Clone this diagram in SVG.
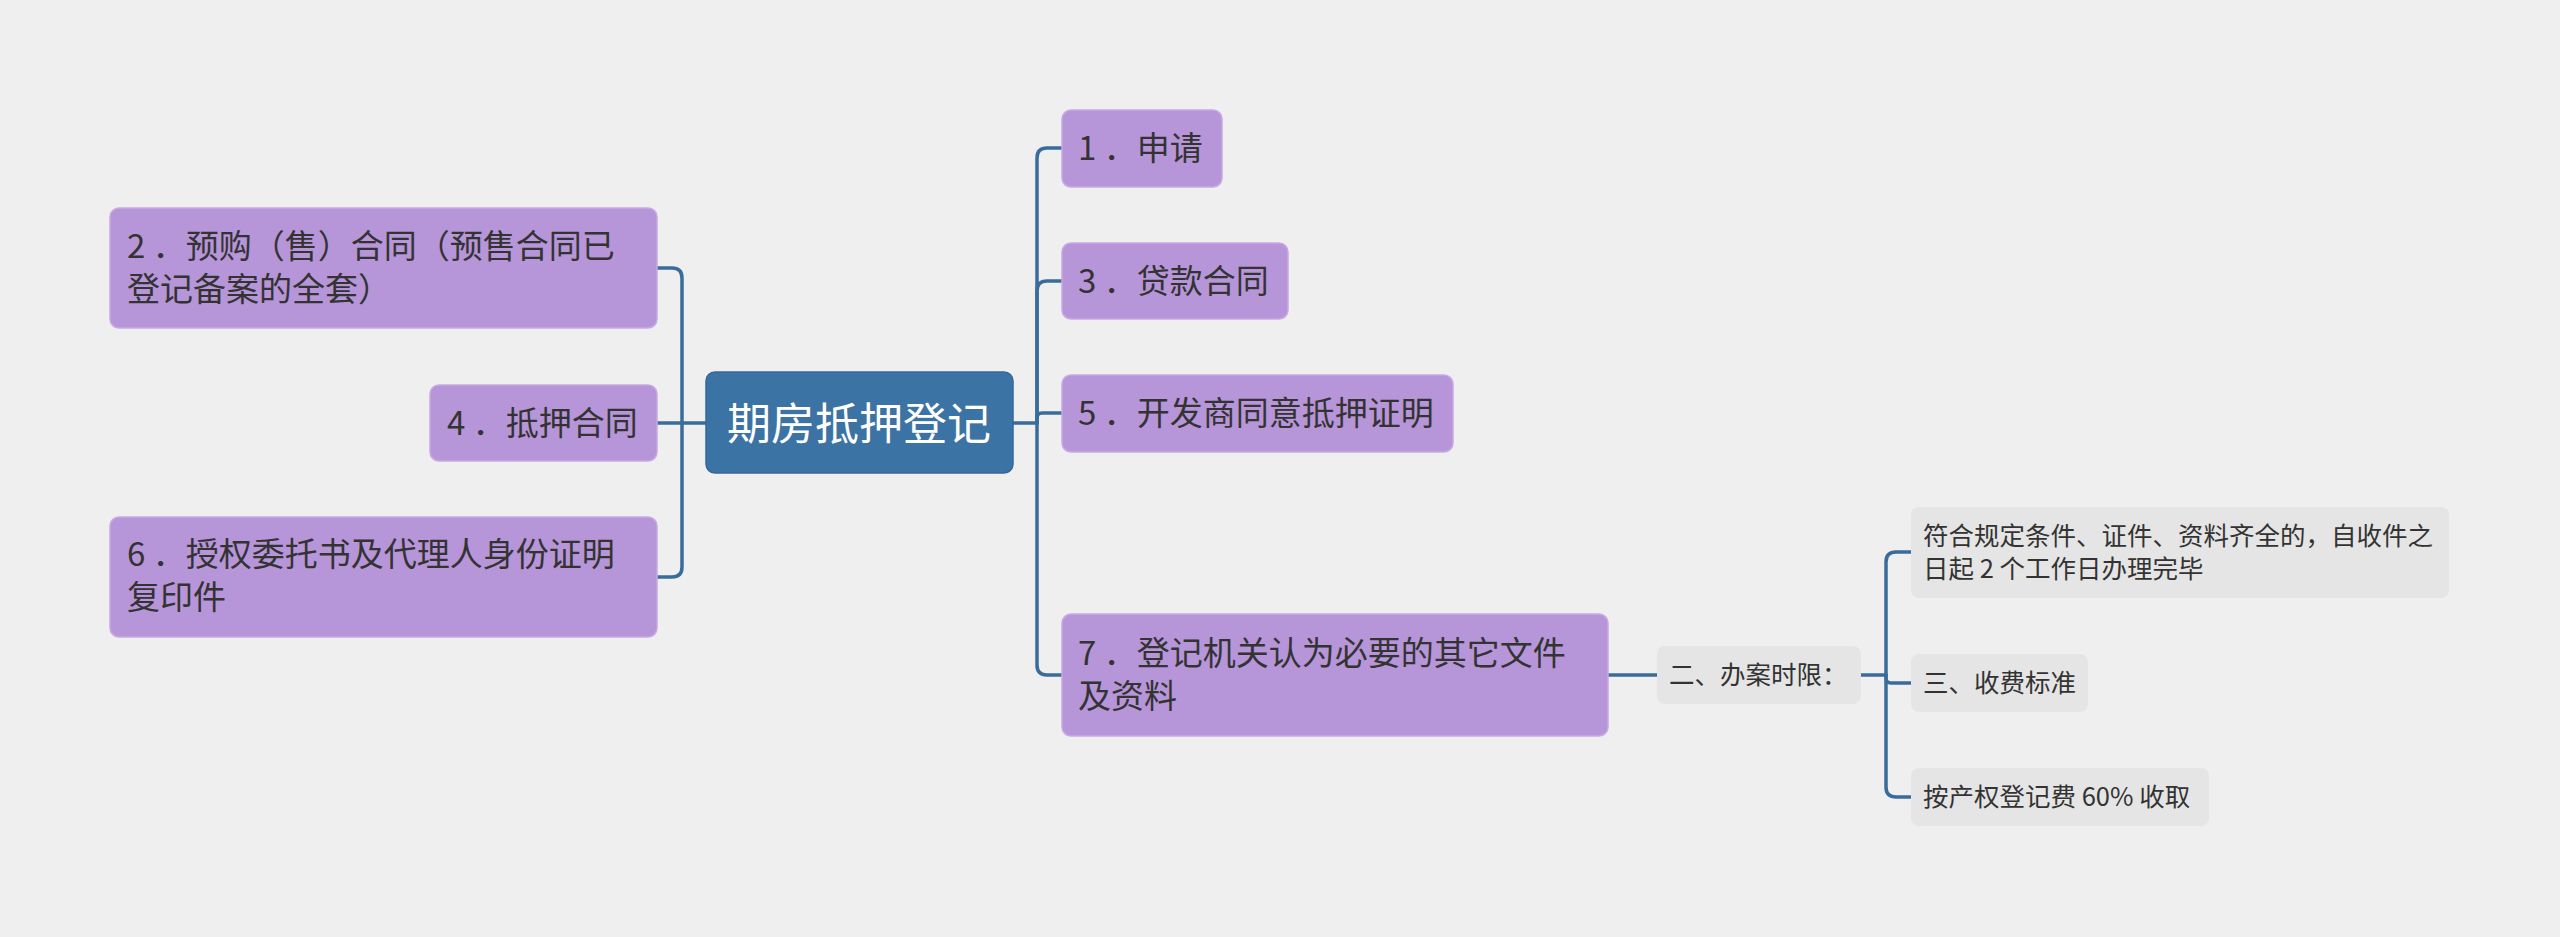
<svg xmlns="http://www.w3.org/2000/svg" width="2560" height="937" viewBox="0 0 2560 937">
<style>
.bg{fill:#efefef}
.p{fill:#b795d9;stroke:#c7a9e4;stroke-width:1.5}
.c{fill:#3c73a5;stroke:#35689a;stroke-width:1.5}
.g{fill:#e5e5e5}
.t{font-family:"Noto Sans CJK SC","Noto Sans",sans-serif;fill:#333333}
.pt{font-size:33px}
.gt{font-size:25.5px}
.ct{font-family:"Noto Sans CJK SC","Noto Sans",sans-serif;fill:#ffffff;font-size:44px}
.ln{fill:none;stroke:#3a6c9b;stroke-width:3.5;stroke-linecap:round}
</style>
<rect class="bg" x="0" y="0" width="2560" height="937"/>
<g id="connectors">
<path class="ln" d="M1013,423 H1037"/>
<path class="ln" d="M1037,423 V158 Q1037,148 1047,148 H1062"/>
<path class="ln" d="M1037,423 V291 Q1037,281 1047,281 H1062"/>
<path class="ln" d="M1037,423 V418 Q1037,413 1042,413 H1062"/>
<path class="ln" d="M1037,423 V665 Q1037,675 1047,675 H1062"/>
<path class="ln" d="M706,423 H682"/>
<path class="ln" d="M682,423 V278 Q682,268 672,268 H657"/>
<path class="ln" d="M682,423 H657"/>
<path class="ln" d="M682,423 V567 Q682,577 672,577 H657"/>
<path class="ln" d="M1608,675 H1657"/>
<path class="ln" d="M1861,675 H1886"/>
<path class="ln" d="M1886,675 V562 Q1886,552 1896,552 H1911"/>
<path class="ln" d="M1886,675 V678 Q1886,683 1891,683 H1911"/>
<path class="ln" d="M1886,675 V787 Q1886,797 1896,797 H1911"/>
</g>
<g id="center">
<rect class="c" x="706" y="372" width="307" height="101" rx="9"/>
<text class="ct" x="727" y="440">期房抵押登记</text>
</g>
<g id="n1">
<rect class="p" x="1062" y="110" width="160" height="77" rx="9"/>
<text class="t pt" x="1078" y="160">1 ．申请</text>
</g>
<g id="n3">
<rect class="p" x="1062" y="243" width="226" height="76" rx="9"/>
<text class="t pt" x="1078" y="293">3 ．贷款合同</text>
</g>
<g id="n5">
<rect class="p" x="1062" y="375" width="391" height="77" rx="9"/>
<text class="t pt" x="1078" y="425">5 ．开发商同意抵押证明</text>
</g>
<g id="n7">
<rect class="p" x="1062" y="614" width="546" height="122" rx="9"/>
<text class="t pt" x="1078" y="665">7 ．登记机关认为必要的其它文件</text>
<text class="t pt" x="1078" y="708">及资料</text>
</g>
<g id="n2">
<rect class="p" x="110" y="208" width="547" height="120" rx="9"/>
<text class="t pt" x="127" y="258">2 ．预购（售）合同（预售合同已</text>
<text class="t pt" x="127" y="301">登记备案的全套）</text>
</g>
<g id="n4">
<rect class="p" x="430" y="385" width="227" height="76" rx="9"/>
<text class="t pt" x="447" y="435">4 ．抵押合同</text>
</g>
<g id="n6">
<rect class="p" x="110" y="517" width="547" height="120" rx="9"/>
<text class="t pt" x="127" y="566">6 ．授权委托书及代理人身份证明</text>
<text class="t pt" x="127" y="609">复印件</text>
</g>
<g id="limit">
<rect class="g" x="1657" y="646" width="204" height="58" rx="8"/>
<text class="t gt" x="1669" y="684">二、办案时限：</text>
</g>
<g id="a">
<rect class="g" x="1911" y="507" width="538" height="91" rx="8"/>
<text class="t gt" x="1923" y="545">符合规定条件、证件、资料齐全的，自收件之</text>
<text class="t gt" x="1923" y="578">日起 2 个工作日办理完毕</text>
</g>
<g id="b">
<rect class="g" x="1911" y="654" width="177" height="58" rx="8"/>
<text class="t gt" x="1923" y="692">三、收费标准</text>
</g>
<g id="c">
<rect class="g" x="1911" y="768" width="298" height="58" rx="8"/>
<text class="t gt" x="1923" y="806">按产权登记费 60% 收取</text>
</g>
</svg>
